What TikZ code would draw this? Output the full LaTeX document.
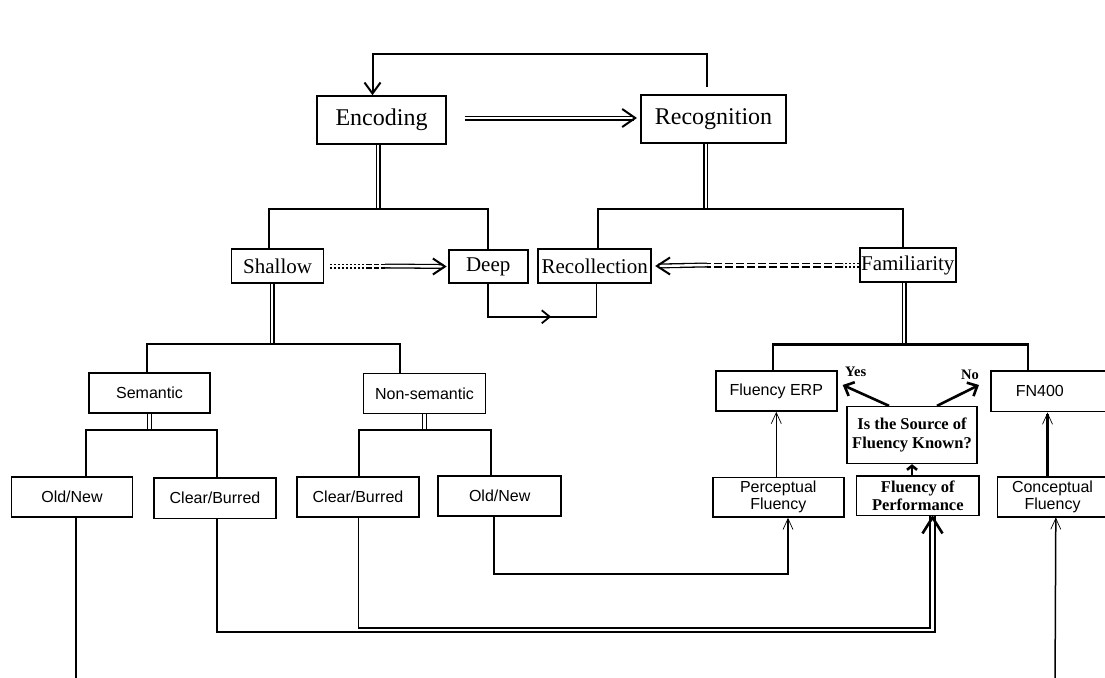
\documentclass[tikz,border=0pt]{standalone}
\usepackage{fontspec}
\setmainfont{Liberation Serif}
\setsansfont{Liberation Sans}
\usetikzlibrary{arrows.meta,decorations.markings}
\begin{document}
\begin{tikzpicture}[x=1pt,y=-1pt,
  bigbox/.style={draw, line width=1.6pt, inner sep=0pt, font=\fontsize{24}{26}\selectfont},
  midbox/.style={draw, line width=1.6pt, inner sep=0pt, font=\fontsize{21}{23}\selectfont},
  sbox/.style={draw, line width=1.6pt, inner sep=0pt, align=center, font=\sffamily\fontsize{16}{17}\selectfont},
  bbox/.style={draw, line width=1.6pt, inner sep=0pt, align=center, font=\bfseries\fontsize{16.5}{18.5}\selectfont},
  lbl/.style={font=\bfseries\fontsize{14.5}{16}\selectfont, inner sep=0pt},
  br/.style={line width=2.2pt},
  ln/.style={line width=1.5pt},
  dbl/.style={double, double distance=2.4pt, line width=1.3pt},
  hd/.style={line width=2pt, line join=miter},
  arr/.style={line width=2pt, -{Straight Barb[length=11pt,width=16pt]}},
  tarr/.style={line width=1.5pt, -{Straight Barb[length=11pt,width=10pt,line width=0.7pt]}},
  barr/.style={line width=2.6pt, -{Straight Barb[length=8pt,width=15pt]}}
]
\useasboundingbox (0,0) rectangle (1105,677);
\clip (0,0) rectangle (1105,677);

% nodes
\node[bigbox, minimum width=129, minimum height=48] (enc) at (381.5,120) {Encoding};
\node[bigbox, minimum width=145, minimum height=48] (rec) at (713.5,119) {Recognition};
\node[midbox, minimum width=92, minimum height=34] (sha) at (277.6,266) {Shallow};
\node[midbox, minimum width=79, minimum height=33] (dee) at (488.2,266.5) {Deep};
\node[midbox, minimum width=113, minimum height=34] (rcl) at (594.7,266) {Recollection};
\node[midbox, minimum width=96, minimum height=34] (fam) at (907.8,265) {Familiarity};

\node[sbox, minimum width=121, minimum height=40] (sem) at (149.5,392.7) {Semantic};
\node[sbox, minimum width=122, minimum height=40] (nse) at (424.5,393.3) {Non-semantic};
\node[sbox, minimum width=121, minimum height=40] (on1) at (72,496.7) {Old/New};
\node[sbox, minimum width=122, minimum height=40.6] (cb1) at (215,498) {Clear/Burred};
\node[sbox, minimum width=122, minimum height=40] (cb2) at (358,496.8) {Clear/Burred};
\node[sbox, minimum width=123, minimum height=40] (on2) at (499.7,495.8) {Old/New};
\node[sbox, minimum width=121, minimum height=40] (erp) at (776.3,391) {Fluency ERP};
\node[sbox, minimum width=131, minimum height=39.3] (pcf) at (778.3,497.3) {Perceptual\\Fluency};
\node[sbox, anchor=west, minimum width=110, minimum height=40] (cnc) at (996.7,496.7) {Conceptual\\Fluency};
\node[sbox, anchor=west, inner xsep=25pt, text width=100pt, align=left, minimum height=40.7] (fn4) at (990,391.3) {FN400};

\node[bbox, minimum width=130, minimum height=56.7] (qst) at (912,435) {Is the Source of\\Fluency Known?};
\node[bbox, minimum width=122.3, minimum height=39.7] (fop) at (917.8,495.8) {Fluency of\\Performance};

\node[lbl] (yes) at (855.7,371.7) {Yes};
\node[lbl] (no) at (970,375) {No};

% junction coordinates
\coordinate (fb) at (372.5,54);
\coordinate (ej) at (378,209);
\coordinate (rj) at (705.8,209);
\coordinate (sj) at (272,344);
\coordinate (fj) at (904,344.5);
\coordinate (mj) at (149.3,430);
\coordinate (nj) at (424.3,430);

% top feedback
\draw[arr, shorten <=7pt] ([xshift=-7]rec.north) |- (fb) -- ([xshift=-9]enc.north);

% encoding => recognition
\coordinate (er) at ([xshift=-5,yshift=1]rec.west);
\draw[dbl, shorten <=18pt, shorten >=1.5pt] ([yshift=2]enc.east) -- (er);
\draw[hd] ([xshift=-13,yshift=9]er) -- (er) -- ([xshift=-13,yshift=-9]er);

% trees
\draw[dbl] (enc.south -| ej) -- (ej);
\draw[br] ([xshift=-9]sha.north) |- (ej) -| (dee.north);
\draw[dbl] (rec.south -| rj) -- (rj);
\draw[br] ([xshift=3]rcl.north) |- (rj) -| ([xshift=-5]fam.north);
\draw[dbl] (sha.south -| sj) -- (sj);
\draw[br] ([xshift=-2.8]sem.north) |- (sj) -| ([xshift=-24.5]nse.north);
\draw[dbl] (sem.south -| mj) -- (mj);
\draw[br] ([xshift=14]on1.north) |- (mj) -| ([xshift=1.7]cb1.north);
\draw[dbl] (nse.south -| nj) -- (nj);
\draw[br] ([xshift=1.3]cb2.north) |- (nj) -| ([xshift=-9]on2.north);
\draw[dbl] (fam.south -| fj) -- (fj);
\draw[br] ([xshift=-3.6]erp.north) |- (fj) -| ([xshift=37.7]fn4.north west);

% shallow -> deep
\coordinate (sd1) at (367,266);
\coordinate (sd2) at (385,266);
\coordinate (sdt) at ([xshift=-3]dee.west);
\draw[dbl, dash pattern=on 2pt off 2pt] ([xshift=6]sha.east) -- (sd1);
\draw[dbl, dash pattern=on 5pt off 2pt] (sd1) -- (sd2);
\draw[dbl, shorten >=1.5pt] (sd2) -- (sdt);
\draw[hd] ([xshift=-12,yshift=8]sdt) -- (sdt) -- ([xshift=-12,yshift=-8]sdt);

% familiarity -> recollection
\coordinate (fr1) at (843,265);
\coordinate (fr2) at (707,265);
\coordinate (frt) at ([xshift=5]rcl.east);
\draw[dbl, dash pattern=on 2pt off 2pt] (fam.west) -- (fr1);
\draw[dbl, dash pattern=on 8pt off 3pt] (fr1) -- (fr2);
\draw[dbl, shorten >=1.5pt] (fr2) -- (frt);
\draw[hd] ([xshift=13,yshift=8.5]frt) -- (frt) -- ([xshift=13,yshift=-8.5]frt);

% deep -> recollection
\draw[ln, postaction={decorate}, decoration={markings, mark=at position 0.55 with {\arrow{Straight Barb[length=8pt,width=13pt,line width=1.8pt]}}}]
  (dee.south) -- ++(0,33) -| ([xshift=2]rcl.south);

% bottom connectors
\coordinate (bl) at (76,690);
\draw[ln] ([xshift=4]on1.south) -- (bl);
\coordinate (c1) at (935,632);
\draw[line width=2.2pt] ([xshift=2.3]cb1.south) |- (c1) -- ([xshift=17.2]fop.south);
\coordinate (c2) at (930,628);
\draw[ln] ([xshift=0.3]cb2.south) |- (c2) -- ([xshift=12.2]fop.south);
\coordinate (fpt) at ([xshift=14.7,yshift=-1]fop.south);
\draw[line width=2.6pt, line join=miter] ([xshift=-10,yshift=-16]fpt) -- (fpt) -- ([xshift=10,yshift=-16]fpt);
\coordinate (c3) at (788,574);
\draw[tarr] ([xshift=-5.7]on2.south) |- (c3) -- ([xshift=9.7]pcf.south);
\coordinate (bri) at (1055,690);
\draw[tarr] (bri) -- ([xshift=3.3]cnc.south);

% upward arrows in fluency block
\draw[tarr] (erp.south |- pcf.north) -- (erp.south);
\coordinate (cx) at ([xshift=-5]cnc.north);
\draw[tarr, line width=2.2pt] (cx) -- (cx |- fn4.south);
\draw[line width=2.6pt, -{Straight Barb[length=4pt,width=10pt]}] (qst.south |- fop.north) -- (qst.south);

% yes / no
\coordinate (ye) at (842.7,385);
\coordinate (ne) at (979,385);
\draw[barr] ([xshift=-23]qst.north) -- (ye);
\draw[barr] ([xshift=25]qst.north) -- (ne);
\end{tikzpicture}
\end{document}
